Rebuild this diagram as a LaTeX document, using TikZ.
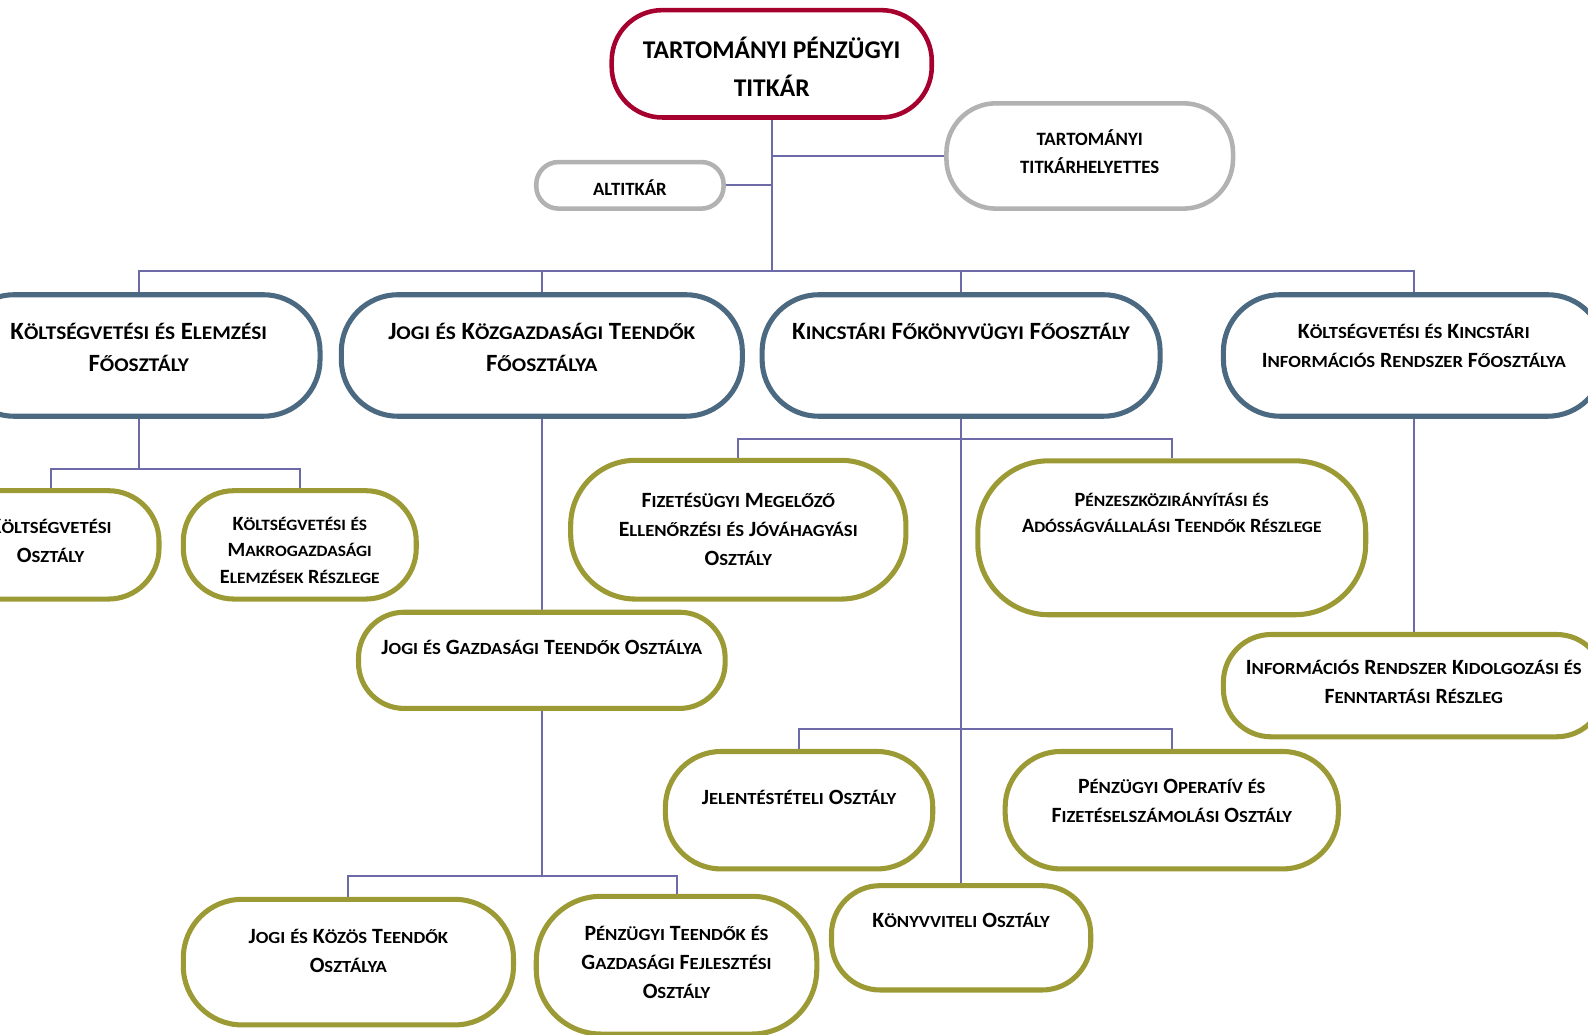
\documentclass[tikz,border=0pt]{standalone}
\usepackage{fontspec}
\setmainfont{Carlito}
\newfontfamily\scwide[FakeStretch=1.1]{Carlito}
\usetikzlibrary{positioning,backgrounds}
\definecolor{titkred}{HTML}{A6002F}
\definecolor{greyline}{HTML}{B2B2B2}
\definecolor{mainblue}{HTML}{4B6981}
\definecolor{unitolive}{HTML}{9B9A34}
\definecolor{connviolet}{HTML}{6C6AA8}
\newcommand{\fa}{\fontsize{25.2}{37}\selectfont}
\newcommand{\fb}{\fontsize{24.5}{32}\selectfont}
\newcommand{\fc}{\fontsize{21.5}{28.5}\selectfont}
\newcommand{\fd}{\fontsize{20}{26}\selectfont}
% kiskapitalis (a Carlito nem ismeri)
\makeatletter
\newcommand{\lc}[1]{{\scwide\bfseries\fontsize{\fpeval{0.78*\f@size}}{\f@baselineskip}\selectfont\MakeUppercase{#1}}}
\makeatother

\begin{document}
\begin{tikzpicture}[x=1pt,y=-1pt,
    pill/.style={draw,fill=white,rectangle,inner sep=0pt},
    chief/.style={pill,draw=titkred,line width=4.5pt},
    deputy/.style={pill,draw=greyline,line width=4.5pt},
    dept/.style={pill,draw=mainblue,line width=5pt},
    unit/.style={pill,draw=unitolive,line width=5pt},
    lbl/.style={align=center,inner sep=0pt,execute at begin node=\strut},
    sclbl/.style={lbl,font=#1\bfseries},
    link/.style={draw=connviolet,line width=2pt}]
    \useasboundingbox (0,0) rectangle (1568,1021);

    % vezetes
    \node[chief,minimum width=316pt,minimum height=106pt,rounded corners=50pt] (tpt) at (762,63) {};
    \node[lbl,font=\fa\bfseries,below=29pt of tpt.north] (tpt-t) {TARTOMÁNYI PÉNZÜGYI\\TITKÁR};
    \node[deputy,minimum width=283pt,minimum height=104pt,rounded corners=49pt] (tth) at (1076,154) {};
    \node[lbl,font=\fontsize{18.6}{28}\selectfont\bfseries,below=27.7pt of tth.north] (tth-t) {TARTOMÁNYI\\TITKÁRHELYETTES};
    \node[deputy,minimum width=185pt,minimum height=46pt,rounded corners=22pt] (alt) at (622,183) {};
    \node[lbl,font=\fontsize{18.5}{24}\selectfont\bfseries,below=18pt of alt.north] (alt-t) {ALTITKÁR};

    % foosztalyok
    \node[dept,minimum width=358pt,minimum height=120pt,rounded corners=56pt] (kef) at (137,351) {};
    \node[sclbl=\fb,below=30.4pt of kef.north] (kef-t) {K\lc{öltségvetési} \lc{és} E\lc{lemzési}\\F\lc{őosztály}};
    \node[dept,minimum width=396pt,minimum height=120pt,rounded corners=56pt] (jkf) at (535,351) {};
    \node[sclbl=\fb,below=30.4pt of jkf.north] (jkf-t) {J\lc{ogi} \lc{és} K\lc{özgazdasági} T\lc{eendők}\\F\lc{őosztálya}};
    \node[dept,minimum width=393pt,minimum height=120pt,rounded corners=56pt] (kff) at (949,351) {};
    \node[sclbl=\fb,below=24.6pt of kff.north] (kff-t) {K\lc{incstári} F\lc{őkönyvügyi} F\lc{őosztály}};
    \node[dept,minimum width=376pt,minimum height=120pt,rounded corners=56pt] (kir) at (1396,351) {};
    \node[sclbl=\fc,below=31.4pt of kir.north] (kir-t) {K\lc{öltségvetési} \lc{és} K\lc{incstári}\\I\lc{nformációs} R\lc{endszer} F\lc{őosztálya}};

    % osztalyok
    \node[unit,minimum width=214pt,minimum height=107pt,rounded corners=50pt] (kto) at (50,538) {};
    \node[sclbl=\fc,below=30.8pt of kto.north] (kto-t) {K\lc{öltségvetési}\\O\lc{sztály}};
    \node[unit,minimum width=230pt,minimum height=107pt,rounded corners=50pt] (kmer) at (296,538) {};
    \node[sclbl=\fd,below=28.6pt of kmer.north] (kmer-t) {K\lc{öltségvetési} \lc{és}\\M\lc{akrogazdasági}\\E\lc{lemzések} R\lc{észlege}};
    \node[unit,minimum width=362pt,minimum height=95pt,rounded corners=45pt] (jgto) at (535,652) {};
    \node[sclbl=\fc,below=23.8pt of jgto.north] (jgto-t) {J\lc{ogi} \lc{és} G\lc{azdasági} T\lc{eendők} O\lc{sztálya}};
    \node[unit,minimum width=326pt,minimum height=124pt,rounded corners=58pt] (jkto) at (344,950) {};
    \node[sclbl=\fc,below=31.8pt of jkto.north] (jkto-t) {J\lc{ogi} \lc{és} K\lc{özös} T\lc{eendők}\\O\lc{sztálya}};
    \node[unit,minimum width=277pt,minimum height=136pt,rounded corners=64pt] (ptgf) at (668,953) {};
    \node[sclbl=\fc,below=32pt of ptgf.north] (ptgf-t) {P\lc{énzügyi} T\lc{eendők} \lc{és}\\G\lc{azdasági} F\lc{ejlesztési}\\O\lc{sztály}};
    \node[unit,minimum width=331pt,minimum height=137pt,rounded corners=64pt] (fmejo) at (729,523) {};
    \node[sclbl=\fc,below=34.8pt of fmejo.north] (fmejo-t) {F\lc{izetésügyi} M\lc{egelőző}\\E\lc{llenőrzési} \lc{és} J\lc{óváhagyási}\\O\lc{sztály}};
    \node[unit,minimum width=383pt,minimum height=152pt,rounded corners=70pt] (patr) at (1157,531) {};
    \node[sclbl=\fd,below=34.3pt of patr.north] (patr-t) {P\lc{énzeszközirányítási} \lc{és}\\A\lc{dósságvállalási} T\lc{eendők} R\lc{észlege}};
    \node[unit,minimum width=264pt,minimum height=116pt,rounded corners=55pt] (jelo) at (789,800) {};
    \node[sclbl=\fc,below=34.8pt of jelo.north] (jelo-t) {J\lc{elentéstételi} O\lc{sztály}};
    \node[unit,minimum width=329pt,minimum height=116pt,rounded corners=55pt] (pofo) at (1157,800) {};
    \node[sclbl=\fc,below=29.5pt of pofo.north] (pofo-t) {P\lc{énzügyi} O\lc{peratív} \lc{és}\\F\lc{izetéselszámolási} O\lc{sztály}};
    \node[unit,minimum width=256pt,minimum height=103pt,rounded corners=48pt] (konyo) at (949,926) {};
    \node[sclbl=\fc,below=23.8pt of konyo.north] (konyo-t) {K\lc{önyvviteli} O\lc{sztály}};
    \node[unit,minimum width=376pt,minimum height=101pt,rounded corners=47pt] (irkf) at (1396,677) {};
    \node[sclbl=\fc,below=28.2pt of irkf.north] (irkf-t) {I\lc{nformációs} R\lc{endszer} K\lc{idolgozási} \lc{és}\\F\lc{enntartási} R\lc{észleg}};

    % vonalak
    \begin{scope}[on background layer]
        \coordinate (bus) at (762,268);
        \coordinate (abus) at (137,463);
        \coordinate (bbus) at (535,865);
        \coordinate (cbus) at (949,433);
        \coordinate (dbus) at (949,720);
        \draw[link] (tpt.south) |- (tth.west);
        \draw[link] (tpt.south) |- (alt.east);
        \draw[link] (tpt.south) -- (bus);
        \draw[link] (bus) -| (kef.north);
        \draw[link] (bus) -| (jkf.north);
        \draw[link] (bus) -| (kff.north);
        \draw[link] (bus) -| (kir.north);
        \draw[link] (kef.south) -- (abus);
        \draw[link] (abus) -| (kto.north);
        \draw[link] (abus) -| (kmer.north);
        \draw[link] (jkf.south) -- (jgto.north);
        \draw[link] (jgto.south) -- (bbus);
        \draw[link] (bbus) -| (jkto.north);
        \draw[link] (bbus) -| (ptgf.north);
        \draw[link] (kff.south) -- (konyo.north);
        \draw[link] (cbus) -| (fmejo.north);
        \draw[link] (cbus) -| (patr.north);
        \draw[link] (dbus) -| (jelo.north);
        \draw[link] (dbus) -| (pofo.north);
        \draw[link] (kir.south) -- (irkf.north);
    \end{scope}
\end{tikzpicture}
\end{document}
